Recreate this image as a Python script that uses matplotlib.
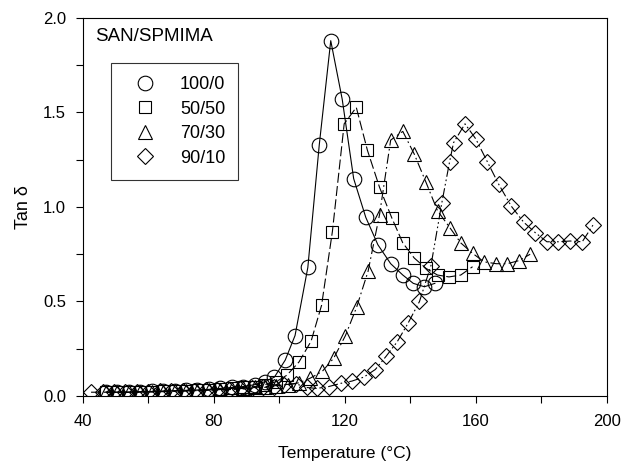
import matplotlib.pyplot as plt
from matplotlib.lines import Line2D
from matplotlib.ticker import MultipleLocator, FormatStrFormatter

plt.rcParams['font.family'] = ['Liberation Sans', 'DejaVu Sans']

# 100/0  (circles, solid)
t_100 = [47, 50.5, 54, 57.5, 61, 64.5, 68, 71.5, 75, 78.5, 82, 85.5, 89, 92.5,
         95.5, 98.5, 101.8, 104.8, 108.7, 112.2, 115.7, 119.2, 122.7, 126.4,
         130.1, 134.0, 137.7, 140.9, 144.3, 147.5]
d_100 = [0.02, 0.02, 0.02, 0.022, 0.024, 0.026, 0.028, 0.03, 0.032, 0.035,
         0.04, 0.045, 0.05, 0.06, 0.075, 0.10, 0.19, 0.32, 0.68, 1.33, 1.88,
         1.57, 1.15, 0.945, 0.80, 0.70, 0.64, 0.596, 0.578, 0.596]

# 50/50  (squares, long dash)
t_50 = [47, 50.5, 54, 57.5, 61, 64.5, 68, 71.5, 75, 78.5, 82, 85.5, 89, 92.5,
        95.5, 99, 102.3, 106.0, 109.7, 112.9, 116.2, 119.8, 123.5, 126.9,
        130.6, 134.4, 137.7, 141.2, 144.8, 148.3, 151.8, 155.4, 159.0]
d_50 = [0.02, 0.02, 0.02, 0.021, 0.022, 0.024, 0.026, 0.028, 0.03, 0.032,
        0.035, 0.04, 0.045, 0.05, 0.06, 0.075, 0.11, 0.18, 0.29, 0.48, 0.87,
        1.44, 1.527, 1.30, 1.104, 0.94, 0.81, 0.73, 0.675, 0.64, 0.63, 0.64,
        0.684]

# 70/30  (triangles, dash-dot)
t_70 = [47, 50.5, 54, 57.5, 61, 64.5, 68, 71.5, 75, 78.5, 82, 85.5, 89, 92.5,
        95.5, 99, 102.5, 106, 109.4, 113.1, 116.6, 120.2, 123.6, 127.1, 130.6,
        134.0, 137.7, 141.2, 144.8, 148.3, 152.1, 155.4, 159.0, 162.5, 166.2,
        169.6, 173.1, 176.6]
d_70 = [0.02, 0.02, 0.02, 0.021, 0.022, 0.023, 0.025, 0.027, 0.029, 0.031,
        0.034, 0.037, 0.04, 0.045, 0.05, 0.055, 0.06, 0.07, 0.094, 0.13, 0.20,
        0.32, 0.47, 0.66, 0.96, 1.354, 1.40, 1.28, 1.13, 0.98, 0.89, 0.81,
        0.755, 0.71, 0.70, 0.70, 0.716, 0.75]

# 90/10  (diamonds, dash-dot-dot)
t_90 = [42.5, 46, 49.5, 53, 56.5, 60, 63.5, 67, 70.5, 74, 77.5, 81, 84.5, 88,
        91.5, 95, 98.5, 101.5, 105, 108.3, 111.4, 115.1, 118.8, 122.2, 125.8,
        129.3, 132.6, 136.0, 139.3, 142.8, 146.3, 149.6, 152.0, 153.2, 156.7,
        160.0, 163.5, 167.0, 170.8, 174.6, 178.1, 181.7, 185.2, 188.8, 192.5,
        195.8]
d_90 = [0.02, 0.02, 0.02, 0.02, 0.022, 0.022, 0.024, 0.025, 0.026, 0.028,
        0.03, 0.032, 0.034, 0.036, 0.04, 0.045, 0.05, 0.06, 0.065, 0.045,
        0.04, 0.05, 0.067, 0.079, 0.10, 0.14, 0.21, 0.287, 0.385, 0.50, 0.69,
        1.02, 1.24, 1.34, 1.44, 1.36, 1.24, 1.12, 1.005, 0.92, 0.865, 0.816,
        0.816, 0.82, 0.816, 0.905]

labels = ['100/0', '50/50', '70/30', '90/10']

fig = plt.figure(figsize=(6.23, 4.65), dpi=100)
ax = fig.add_axes([0.133, 0.1484, 0.841, 0.8129])

lw = 0.8
ax.plot(t_100, d_100, color='black', lw=lw, ls='-', marker='o', ms=10.5,
        mfc='none', mec='black', mew=0.8)
ax.plot(t_50, d_50, color='black', lw=lw, ls=(0, (9, 3)), marker='s', ms=9,
        mfc='none', mec='black', mew=0.8)
ax.plot(t_70, d_70, color='black', lw=lw, ls=(0, (9, 3, 1.5, 3)), marker='^',
        ms=10, mfc='none', mec='black', mew=0.8)
ax.plot(t_90, d_90, color='black', lw=lw, ls=(0, (9, 2.5, 1.5, 2.5, 1.5, 2.5)),
        marker='D', ms=8.5, mfc='none', mec='black', mew=0.8)

ax.set_xlim(40, 200)
ax.set_ylim(0, 2.0)
ax.xaxis.set_major_locator(MultipleLocator(40))
ax.xaxis.set_minor_locator(MultipleLocator(20))
ax.yaxis.set_major_locator(MultipleLocator(0.5))
ax.yaxis.set_minor_locator(MultipleLocator(0.25))
ax.yaxis.set_major_formatter(FormatStrFormatter('%.1f'))
ax.tick_params(which='both', direction='out', length=5, width=0.8,
               labelsize=12, top=False, right=False)
ax.tick_params(axis='x', pad=7.8)
ax.tick_params(axis='y', pad=7)
for s in ax.spines.values():
    s.set_linewidth(0.8)

ax.set_xlabel('Temperature (°C)', fontsize=12.5, labelpad=12.5)
ax.set_ylabel('Tan δ', fontsize=13, labelpad=8)

ax.text(0.023, 0.9505, 'SAN/SPMIMA', transform=ax.transAxes, fontsize=13.5,
        va='center', ha='left')

markers = ['o', 's', '^', 'D']
sizes = [10.5, 9, 10, 8.5]
handles = [Line2D([], [], ls='none', marker=m, ms=s, mfc='none', mec='black',
                  mew=0.8) for m, s in zip(markers, sizes)]
leg = ax.legend(handles, labels, loc='upper left', bbox_to_anchor=(0.0534, 0.881),
                fontsize=13, frameon=True, fancybox=False, edgecolor='black',
                borderpad=0.72, labelspacing=0.42, handlelength=2.33,
                handletextpad=0.78, borderaxespad=0)
leg.get_frame().set_linewidth(0.8)

fig.savefig('out.png', dpi=100)
